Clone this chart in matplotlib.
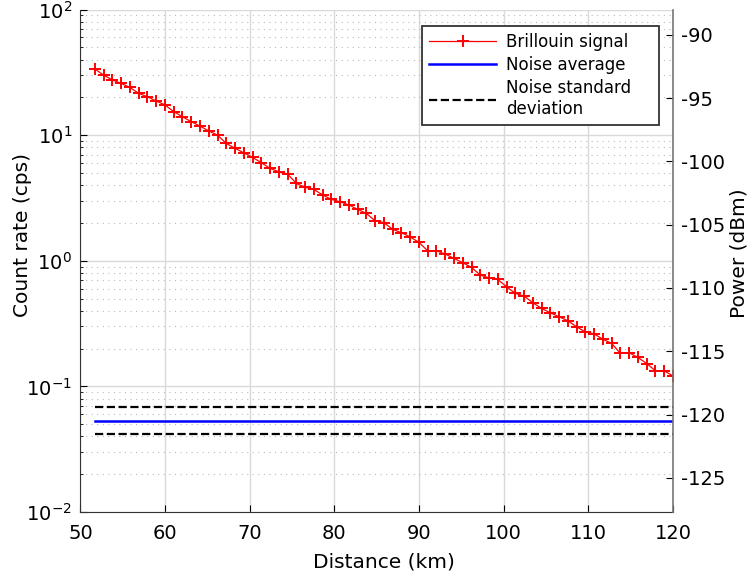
import matplotlib
matplotlib.use("Agg")
import matplotlib.pyplot as plt

plt.rcParams["font.family"] = "DejaVu Sans"
plt.rcParams["axes.unicode_minus"] = False

distance_km = [
    51.70, 52.73, 53.77, 54.80, 55.84, 56.87, 57.91, 58.94, 59.98, 61.01,
    62.05, 63.08, 64.12, 65.15, 66.19, 67.22, 68.26, 69.29, 70.33, 71.36,
    72.40, 73.43, 74.47, 75.50, 76.54, 77.57, 78.61, 79.64, 80.67, 81.71,
    82.74, 83.78, 84.81, 85.85, 86.88, 87.92, 88.95, 89.99, 91.02, 92.06,
    93.09, 94.13, 95.16, 96.20, 97.23, 98.27, 99.30, 100.34, 101.37, 102.41,
    103.44, 104.47, 105.51, 106.54, 107.58, 108.61, 109.65, 110.68, 111.72, 112.75,
    113.79, 114.82, 115.86, 116.89, 117.93, 118.96, 120.00,
]
count_rate = [
    33.6, 30.1, 27.5, 25.8, 24.0, 21.5, 20.2, 18.7, 17.4, 15.4,
    14.0, 12.8, 11.8, 10.8, 10.0, 8.6, 7.85, 7.24, 6.66, 6.03,
    5.44, 5.11, 4.90, 4.13, 3.84, 3.70, 3.34, 3.08, 2.95, 2.78,
    2.57, 2.38, 2.08, 2.01, 1.78, 1.67, 1.55, 1.40, 1.20, 1.20,
    1.13, 1.045, 0.964, 0.886, 0.769, 0.731, 0.711, 0.621, 0.550, 0.524,
    0.463, 0.418, 0.385, 0.358, 0.333, 0.298, 0.271, 0.262, 0.237, 0.220,
    0.183, 0.185, 0.170, 0.152, 0.133, 0.133, 0.121,
]
noise_avg = 0.0532
noise_hi = 0.068
noise_lo = 0.0417
noise_span = [51.70, 120.0]

fig = plt.figure(figsize=(7.48, 5.81), dpi=100)
ax = fig.add_axes([0.1076, 0.1188, 0.7921, 0.8648])

ax.plot(distance_km, count_rate, color="red", lw=0.9, marker="+",
        markersize=8.5, markeredgewidth=1.4, label="Brillouin signal")
ax.plot(noise_span, [noise_avg] * 2, color="blue", lw=1.8, label="Noise average")
ax.plot(noise_span, [noise_hi] * 2, color="black", ls="--", lw=1.6,
        label="Noise standard\ndeviation")
ax.plot(noise_span, [noise_lo] * 2, color="black", ls="--", lw=1.6)

ax.set_yscale("log")
ax.set_xlim(50, 120)
ax.set_ylim(1e-2, 1e2)
ax.set_xticks([50, 60, 70, 80, 90, 100, 110, 120])
ax.set_xlabel("Distance (km)", fontsize=14.5)
ax.set_ylabel("Count rate (cps)", fontsize=14.5)
ax.xaxis.set_label_coords(0.513, -0.08)
ax.yaxis.set_label_coords(-0.082, 0.551)
ax.grid(True, which="major", color="#d9d9d9", lw=1.0)
ax.grid(True, which="minor", axis="y", color="#bbbbbb", ls=(0, (1, 4)), lw=0.8)
ax.tick_params(which="both", direction="in", labelsize=14)
ax.tick_params(which="major", length=5)
ax.tick_params(which="minor", length=2.5)
ax.tick_params(axis="x", which="minor", bottom=False)
ax.tick_params(axis="x", pad=9)
ax.tick_params(axis="y", pad=6)
ax.spines["top"].set_visible(False)
ax.spines["right"].set_visible(False)
ax.spines["left"].set_color("#333333")
ax.spines["bottom"].set_color("#333333")

ax2 = ax.twinx()
ax2.set_ylim(-127.7, -88.0)
ax2.set_yticks([-90, -95, -100, -105, -110, -115, -120, -125])
ax2.set_ylabel("Power (dBm)", fontsize=14.5)
ax2.yaxis.set_label_coords(1.096, 0.515)
ax2.tick_params(direction="in", labelsize=14, length=5, pad=6)
for s in ["top", "left", "bottom"]:
    ax2.spines[s].set_visible(False)
ax2.spines["right"].set_color("#777777")
ax2.spines["right"].set_linewidth(1.2)

# legend box spans a fixed width, as in the original figure
leg = ax.legend(loc="upper right", bbox_to_anchor=(0.576, 0.668, 0.4005, 0.3),
                mode="expand", borderaxespad=0,
                fontsize=12, fancybox=False, framealpha=1, edgecolor="#333333",
                handlelength=4.0, handletextpad=0.6, borderpad=0.45,
                labelspacing=0.3)
leg.get_frame().set_linewidth(1.3)

fig.savefig("out.png", dpi=100)
